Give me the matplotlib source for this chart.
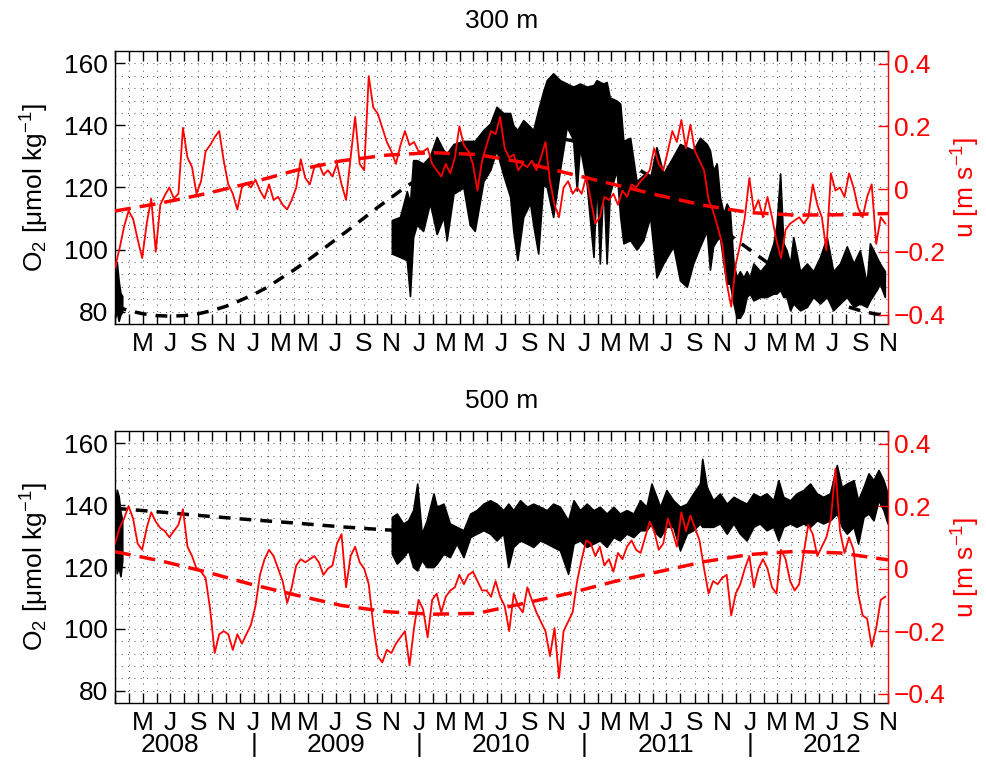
import numpy as np
import pandas as pd
import matplotlib
matplotlib.use("Agg")
import matplotlib.pyplot as plt
import matplotlib.transforms as mtransforms

plt.rcParams['font.family'] = ['Liberation Sans', 'DejaVu Sans']
plt.rcParams['mathtext.fontset'] = 'custom'
plt.rcParams['mathtext.rm'] = 'Liberation Sans'
plt.rcParams['mathtext.it'] = 'Liberation Sans:italic'
plt.rcParams['mathtext.default'] = 'regular'

# ---------------- data ----------------
START = '2008-03-01'
END = '2012-11-01'

# red u series: one value every 10 days from START
u300 = [-0.25, -0.19, -0.12, -0.07, -0.095, -0.16, -0.22, -0.11, -0.03, -0.20,
        -0.05, -0.02, 0.005, -0.03, -0.015, 0.195, 0.10, 0.07, -0.015, 0.025,
        0.12, 0.14, 0.165, 0.185, 0.09, 0.015, -0.015, -0.065, 0.005, 0.02,
        0.005, 0.03, -0.005, -0.03, 0.015, -0.035, -0.025, -0.05, -0.065, -0.035,
        0.005, 0.095, 0.035, 0.015, 0.07, 0.08, 0.045, 0.06,
        0.04, 0.08, 0.015, -0.035, 0.10, 0.23, 0.08, 0.06, 0.36, 0.26,
        0.24, 0.195, 0.15, 0.12, 0.08, 0.14, 0.185, 0.14, 0.15, 0.12,
        0.12, 0.13, 0.08, 0.06, 0.04, 0.08, 0.05, 0.10, 0.20, 0.14,
        0.12, 0.08, -0.005, 0.09, 0.14, 0.185, 0.175, 0.23, 0.13, 0.10,
        0.11, 0.06, 0.08, 0.07, 0.09, 0.06, 0.10, 0.15, 0.025, -0.05,
        -0.09, 0.005, 0.025, -0.015, 0.005, -0.015, 0.04, -0.035, -0.11, -0.09,
        -0.025, -0.035, -0.015, -0.05, -0.005, -0.025, 0.015, 0.005, 0.025, 0.04,
        0.06, 0.13, 0.08, 0.06, 0.12, 0.185, 0.15, 0.22, 0.13, 0.205,
        0.12, 0.09, 0.06, -0.035, -0.07, -0.12, -0.175, -0.30, -0.375, -0.24,
        -0.175, -0.09, 0.035, -0.07, -0.035, -0.09, -0.025, -0.09, -0.165, -0.22,
        -0.13, -0.11, -0.10, -0.09, -0.11, -0.09, 0.015, -0.05, -0.09, -0.195,
        0.05, -0.005, 0.005, -0.025, 0.05, 0.005, -0.06, -0.09, -0.025, 0.015,
        -0.175, -0.09, -0.11]

u500 = [0.08, 0.13, 0.16, 0.20, 0.16, 0.08, 0.06, 0.13, 0.18, 0.15,
        0.13, 0.12, 0.10, 0.12, 0.14, 0.19, 0.07, 0.04, 0.00, -0.01,
        -0.03, -0.13, -0.27, -0.21, -0.20, -0.21, -0.26, -0.21, -0.24, -0.21,
        -0.18, -0.12, -0.02, 0.03, 0.06, 0.04, 0.00, -0.04, -0.11, -0.06,
        0.01, 0.03, 0.02, 0.03, 0.04, 0.02, -0.02, 0.00,
        0.01, 0.08, 0.11, -0.06, 0.04, 0.07, 0.02, 0.00, -0.05, -0.18,
        -0.28, -0.30, -0.26, -0.27, -0.24, -0.22, -0.20, -0.31, -0.19, -0.10,
        -0.13, -0.22, -0.10, -0.08, -0.14, -0.09, -0.07, -0.06, -0.02, -0.05,
        -0.02, -0.01, -0.04, -0.07, -0.07, -0.09, -0.04, -0.09, -0.12, -0.20,
        -0.08, -0.12, -0.14, -0.06, -0.10, -0.14, -0.17, -0.20, -0.28, -0.19,
        -0.35, -0.20, -0.17, -0.14, -0.04, 0.03, 0.09, 0.08, 0.04, 0.07,
        0.01, 0.03, -0.01, 0.05, 0.03, 0.07, 0.09, 0.06, 0.05, 0.10,
        0.15, 0.12, 0.06, 0.08, 0.16, 0.12, 0.07, 0.18, 0.12, 0.17,
        0.13, 0.09, 0.00, -0.08, -0.04, -0.05, -0.03, -0.02, -0.15, -0.08,
        -0.05, 0.00, 0.04, -0.06, 0.00, 0.03, 0.00, -0.06, -0.08, 0.06,
        0.03, -0.04, -0.07, -0.05, 0.05, 0.14, 0.11, 0.04, 0.07, 0.10,
        0.16, 0.32, 0.12, 0.05, 0.10, 0.06, -0.08, -0.15, -0.16, -0.25,
        -0.19, -0.10, -0.09]

# red dashed fits (day since START, u)
ufit300_day = [0, 100, 200, 300, 400, 500, 600, 700, 800, 900, 1000, 1100, 1200,
               1300, 1400, 1500, 1600, 1706]
ufit300_val = [-0.07, -0.045, -0.015, 0.02, 0.06, 0.09, 0.108, 0.116, 0.11, 0.085,
               0.05, 0.015, -0.02, -0.052, -0.075, -0.083, -0.082, -0.078]
ufit500_day = [0, 100, 200, 300, 400, 500, 600, 700, 800, 900, 1000, 1100, 1200,
               1300, 1400, 1500, 1600, 1706]
ufit500_val = [0.054, 0.025, -0.01, -0.05, -0.085, -0.118, -0.138, -0.146, -0.143,
               -0.112, -0.08, -0.042, -0.01, 0.022, 0.045, 0.055, 0.05, 0.028]

# black dashed fits
o2fit300_monthly = [81.7, 80.3, 79.3, 78.7, 78.5, 78.7, 79.3, 80.3, 81.7, 83.5, 85.5,
                    87.9, 90.6, 93.5, 96.6, 99.9, 103.2, 106.6, 110.1, 113.5, 116.8,
                    120.0, 123.0, 125.8, 128.3, 130.6, 132.5, 134.1, 135.2, 136.0, 136.4,
                    136.4, 136.0, 135.2, 134.1, 132.5, 130.6, 128.3, 125.8, 123.0, 120.0,
                    116.8, 113.5, 110.1, 106.6, 103.2, 99.9, 96.6, 93.5, 90.6, 87.9,
                    85.5, 83.5, 81.7, 80.3, 79.3, 78.7]
o2fit500_day = [0, 100, 200, 300, 400, 500, 600, 700, 800, 900, 1000, 1100, 1200,
                1300, 1400, 1500, 1600, 1706]
o2fit500_val = [139.0, 137.8, 136.5, 135.3, 134.2, 133.0, 132.0, 131.5, 131.3, 131.5,
                132.0, 132.8, 133.8, 135.0, 136.0, 137.0, 137.8, 138.5]

# black O2 records (envelope of the high-frequency signal): day, upper, lower
o2_300_first_day = [0, 4, 8, 12, 16]
o2_300_first_hi = [84, 96, 90, 86, 85]
o2_300_first_lo = [78, 80, 77, 79, 80]
o2_300_day = [611, 629, 644, 651, 658, 666, 680, 695, 710, 725, 732, 747, 769, 783, 794,
              813, 828, 842, 857, 872, 879, 888, 901, 916, 923, 934, 945, 953, 967, 982,
              997, 1011, 1019, 1026, 1041, 1056, 1063, 1070, 1078, 1085, 1092, 1107,
              1115, 1122, 1137, 1151, 1166, 1181, 1195, 1210, 1232, 1247, 1262, 1276,
              1291, 1306, 1313, 1320, 1328, 1335, 1343, 1350, 1357, 1365, 1372, 1379,
              1387, 1394, 1401, 1409, 1424, 1438, 1453, 1460, 1468, 1475, 1482, 1490,
              1497, 1512, 1527, 1541, 1556, 1571, 1585, 1600, 1615, 1630, 1644, 1659,
              1666, 1681, 1688, 1699]
o2_300_hi = [109.5, 110.5, 118.8, 115, 128.8, 128.8, 127.7, 130, 136.3, 132, 131, 134,
             135, 135, 135, 138.5, 140.6, 146, 144, 144, 140, 138.5, 141.7, 139.6, 138.5,
             145, 151, 154.6, 156.8, 154.6, 153.5, 152.5, 153, 153.5, 152.5, 153, 154.6,
             154, 153.5, 154, 149, 148, 147, 135, 136, 122, 124, 123, 133, 124.5, 130,
             134, 133, 132, 136, 134, 132, 125.6, 127.7, 117, 111.6, 114.8, 112.7, 95.5,
             91, 93, 91, 93, 91, 95.5, 93, 95.5, 102, 108, 124.5, 102, 99.8, 95.5, 104,
             93, 95.5, 93, 97.6, 104, 93, 95.5, 101, 95.5, 99.8, 89, 102, 97.6, 95.5, 93]
o2_300_lo = [98.7, 97.6, 96.6, 85, 104, 108, 106, 115, 105, 110.5, 103, 118, 120, 108,
             106, 122, 125.6, 132, 124, 117, 106, 96.6, 110.5, 115, 108, 98.7, 121, 120,
             110.5, 125.6, 139.6, 135.5, 119, 133, 121, 97.6, 123, 95.5, 123, 95.5, 118,
             125.6, 110.5, 102, 103, 100, 103, 110.5, 91, 95.5, 101, 90, 88, 95.5, 101,
             106, 93.5, 101, 103, 104, 95.5, 89, 89, 82.6, 78, 78, 80, 84.7, 85.8, 83.6,
             84.7, 84.7, 85.8, 85.8, 87, 84.7, 84.7, 80.4, 82.6, 80.4, 81.5, 84.7, 82.6,
             84.7, 80.4, 82.6, 84.7, 81.5, 82.6, 81.5, 83.6, 87, 89, 84.7]

o2_500_first_day = [0, 4, 8, 12, 16]
o2_500_first_hi = [140, 145, 143, 138, 135]
o2_500_first_lo = [125, 118, 120, 117, 122]
o2_500_day = [611, 622, 636, 647, 658, 667, 677, 688, 703, 710, 725, 739, 754, 769, 784,
              798, 813, 828, 842, 857, 868, 879, 894, 909, 923, 938, 953, 967, 982, 1000,
              1012, 1026, 1041, 1056, 1070, 1085, 1100, 1114, 1129, 1144, 1159, 1173,
              1184, 1195, 1203, 1217, 1232, 1247, 1262, 1276, 1291, 1296, 1306, 1320,
              1335, 1350, 1365, 1379, 1394, 1409, 1423, 1438, 1453, 1464, 1475, 1490,
              1504, 1519, 1534, 1549, 1563, 1578, 1593, 1604, 1615, 1630, 1640, 1652,
              1663, 1674, 1685, 1696, 1705]
o2_500_hi = [136.2, 137.3, 134.1, 135.1, 138.4, 147, 130.8, 135.1, 143.8, 139.5, 140.5,
             134.1, 133, 131.9, 137.3, 138.4, 140.5, 141.6, 140.5, 138.4, 140.5, 138.4,
             141.6, 139.5, 140.5, 139.5, 138.4, 140.5, 139.5, 135.1, 141.6, 138.4, 140.5,
             138.4, 139.5, 137.3, 139.5, 137.3, 138.4, 137.3, 141.6, 139.5, 147, 142.7,
             139.5, 144.9, 141.6, 139.5, 140.5, 143.8, 147, 155, 145.9, 141.6, 143.8,
             140.5, 142.7, 141.6, 140.5, 143.8, 142.7, 143.8, 141.6, 148.1, 142.7, 141.6,
             143.8, 144.9, 147, 143.8, 142.7, 143.8, 153, 145.9, 147, 148.1, 141.6, 145.9,
             150.3, 148.1, 151.4, 148.1, 143.8]
o2_500_lo = [124.3, 121.1, 123.2, 125.4, 120, 118.9, 122.2, 120, 120, 121.1, 124.3,
             123.2, 127.6, 123.2, 129.7, 130.8, 131.9, 130.8, 128.6, 130.8, 120, 126.5,
             128.6, 127.6, 126.5, 128.6, 127.6, 126.5, 125.4, 117.8, 127.6, 128.6, 126.5,
             127.6, 128.6, 126.5, 129.7, 128.6, 130.8, 129.7, 131.9, 131.9, 134.1, 130.8,
             129.7, 133, 133, 125.4, 130.8, 131.9, 134.1, 133, 133, 133, 134.1, 130.8,
             134.1, 130.8, 128.6, 133, 134.1, 131.9, 133, 128.6, 133, 134.1, 133, 134.1,
             133, 135.1, 134.1, 135.1, 137.3, 133, 130.8, 133, 127.6, 136.2, 137.3, 135.1,
             141.6, 138.4, 134.1]

years = [2008, 2009, 2010, 2011, 2012]

# ---------------- helpers ----------------
T0 = pd.Timestamp(START)


def to_dates(days):
    return T0 + pd.to_timedelta(np.asarray(days, dtype=float), unit='D')


months = pd.date_range(START, END, freq='MS')
month_labels = []
for d in months:
    if d.month % 2 == 1 and not (d.year == 2008 and d.month == 3):
        month_labels.append('JFMAMJJASOND'[d.month - 1])
    else:
        month_labels.append('')

u_dates = T0 + pd.to_timedelta(np.arange(len(u300)) * 10, unit='D')

FS = 19
GRID = dict(color='0.3', linestyle=(0, (1, 5.5)), linewidth=0.7)

fig = plt.figure(figsize=(9.87, 7.63), dpi=100)


def panel(rect, title, first, main, fit_x, fit_y, u, ufit_day, ufit_val, show_years):
    ax = fig.add_axes(rect)
    ax.plot(fit_x, fit_y, color='black', lw=2.5, dashes=(3.4, 2.6), zorder=2)
    for (d, hi, lo) in (first, main):
        dd = to_dates(d)
        ax.fill_between(dd, lo, hi, color='black', lw=1.2, zorder=3)
    ax.set_xlim(pd.Timestamp(START), pd.Timestamp(END))
    ax.set_ylim(76, 164)
    ax.set_yticks([80, 100, 120, 140, 160])
    ax.set_yticks(np.arange(76, 165, 4), minor=True)
    ax.set_xticks(months)
    ax.set_xticklabels(month_labels)
    ax.set_axisbelow(True)
    ax.grid(True, which='both', axis='y', **GRID)
    ax.grid(True, which='major', axis='x', **GRID)
    ax.tick_params(axis='x', which='major', direction='in', top=True, length=7,
                   labelsize=FS, pad=6, width=1)
    ax.tick_params(axis='y', which='major', direction='in', length=7, labelsize=FS,
                   pad=5, width=1)
    ax.tick_params(axis='y', which='minor', length=0)
    ax.spines['right'].set_visible(False)
    for s in ('left', 'top', 'bottom'):
        ax.spines[s].set_linewidth(1.0)
    ax.set_ylabel('O$_2$ [μmol kg$^{-1}$]', fontsize=FS)
    ax.yaxis.set_label_coords(-0.083, 0.5)
    ax.text(0.5, 1.11, title, transform=ax.transAxes, ha='center', va='center',
            fontsize=FS)

    axr = ax.twinx()
    axr.plot(u_dates, u, color='red', lw=1.3, zorder=3)
    axr.plot(to_dates(ufit_day), ufit_val, color='red', lw=2.5, dashes=(4.6, 2.6),
             zorder=4)
    axr.set_ylim(-0.43, 0.44)
    axr.set_yticks([-0.4, -0.2, 0, 0.2, 0.4])
    axr.set_yticklabels(['\u22120.4', '\u22120.2', '0', '0.2', '0.4'])
    axr.tick_params(axis='y', direction='in', length=7, colors='red', labelsize=FS,
                    pad=4, width=1)
    for s in ('left', 'top', 'bottom'):
        axr.spines[s].set_visible(False)
    axr.spines['right'].set_color('red')
    axr.spines['right'].set_linewidth(1.0)
    axr.set_ylabel('u [m s$^{-1}$]', color='red', fontsize=FS)
    axr.yaxis.set_label_coords(1.08, 0.5)
    axr.set_xlim(pd.Timestamp(START), pd.Timestamp(END))

    if show_years:
        trans = mtransforms.blended_transform_factory(ax.transData, ax.transAxes)
        for y in years:
            ax.text(pd.Timestamp(f'{y}-07-01'), -0.155, str(y), transform=trans,
                    ha='center', va='center', fontsize=FS)
            if y > years[0]:
                ax.text(pd.Timestamp(f'{y}-01-01'), -0.155, '|', transform=trans,
                        ha='center', va='center', fontsize=FS)
    return ax, axr


panel([0.1165, 0.5754, 0.7832, 0.3578], '300 m',
      (o2_300_first_day, o2_300_first_hi, o2_300_first_lo),
      (o2_300_day, o2_300_hi, o2_300_lo),
      months, o2fit300_monthly, u300, ufit300_day, ufit300_val, False)

panel([0.1165, 0.0786, 0.7832, 0.3565], '500 m',
      (o2_500_first_day, o2_500_first_hi, o2_500_first_lo),
      (o2_500_day, o2_500_hi, o2_500_lo),
      to_dates(o2fit500_day), o2fit500_val, u500, ufit500_day, ufit500_val, True)

fig.savefig('out.png', dpi=100)
